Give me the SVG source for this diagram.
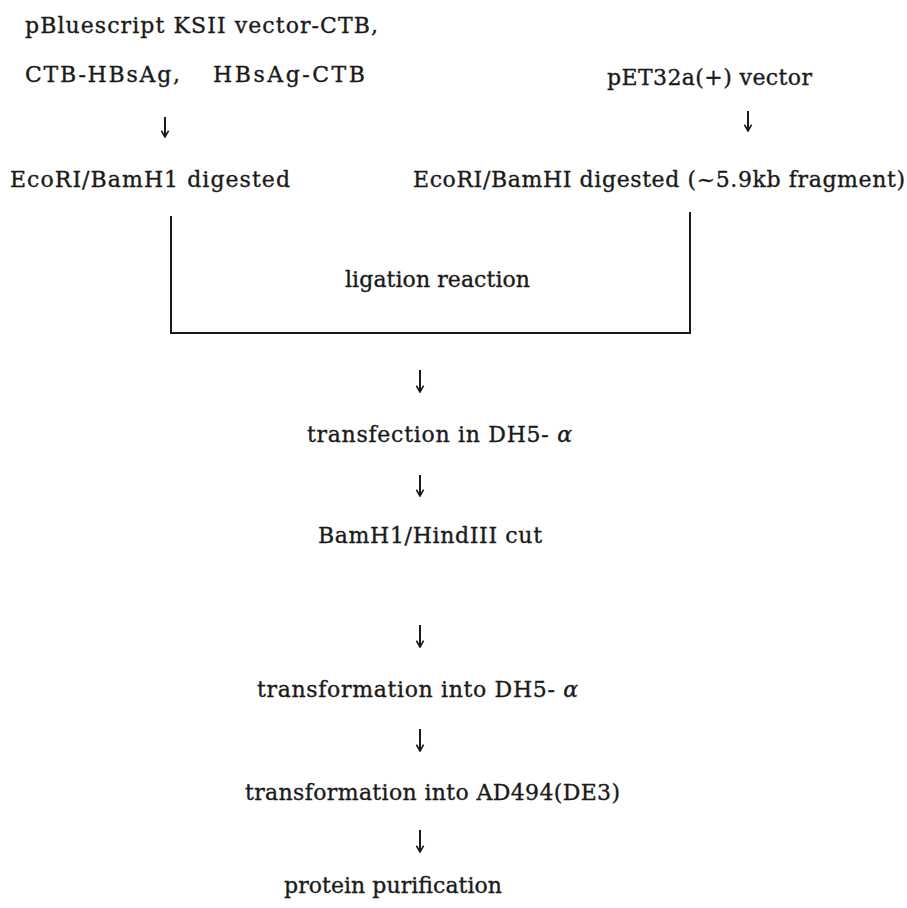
<svg xmlns="http://www.w3.org/2000/svg" width="907" height="908" viewBox="0 0 907 908">
<style>
text{font-family:"DejaVu Serif","Liberation Serif",serif;font-size:22px;fill:#1a1a1a;stroke:#1a1a1a;stroke-width:0.35}
.c{stroke:#1a1a1a;stroke-width:2;fill:none}
.a{stroke:#1a1a1a;stroke-width:2;fill:none}
</style>
<defs>
<marker id="h" viewBox="0 0 10 10" refX="9" refY="5" markerWidth="9" markerHeight="9" markerUnits="userSpaceOnUse" orient="auto">
<path d="M2,1 L9,5 L2,9" fill="none" stroke="#1a1a1a" stroke-width="1.8"/>
</marker>
</defs>
<rect width="907" height="908" fill="#fff"/>
<g id="n1"><text x="25" y="33" textLength="353">pBluescript  KSII  vector-CTB,</text>
<text x="25" y="82" textLength="155">CTB-HBsAg,</text>
<text x="213" y="82" textLength="152">HBsAg-CTB</text></g>
<g id="n2"><text x="10" y="187" textLength="280">EcoRI/BamH1  digested</text></g>
<g id="n3"><text x="607" y="85" textLength="205">pET32a(+)  vector</text></g>
<g id="n4"><text x="413" y="187" textLength="492">EcoRI/BamHI  digested  (~5.9kb  fragment)</text></g>
<g id="n5"><text x="345" y="287" textLength="185">ligation  reaction</text></g>
<g id="n6"><text x="307" y="442" textLength="265">transfection  in  DH5- <tspan font-style="italic">α</tspan></text></g>
<g id="n7"><text x="318" y="543" textLength="224">BamH1/HindIII  cut</text></g>
<g id="n8"><text x="257" y="697" textLength="321">transformation  into  DH5- <tspan font-style="italic">α</tspan></text></g>
<g id="n9"><text x="245" y="800" textLength="375">transformation  into  AD494(DE3)</text></g>
<g id="n10"><text x="284" y="893" textLength="218">protein  purification</text></g>
<g id="connectors">
<path class="c" d="M171,216 V333 H690 V212"/>
<line class="a" x1="165" y1="117" x2="165" y2="137" marker-end="url(#h)"/>
<line class="a" x1="748" y1="111" x2="748" y2="131" marker-end="url(#h)"/>
<line class="a" x1="420" y1="370" x2="420" y2="392" marker-end="url(#h)"/>
<line class="a" x1="420" y1="475" x2="420" y2="496" marker-end="url(#h)"/>
<line class="a" x1="420" y1="625" x2="420" y2="647" marker-end="url(#h)"/>
<line class="a" x1="420" y1="729" x2="420" y2="751" marker-end="url(#h)"/>
<line class="a" x1="420" y1="830" x2="420" y2="852" marker-end="url(#h)"/>
</g>
</svg>
